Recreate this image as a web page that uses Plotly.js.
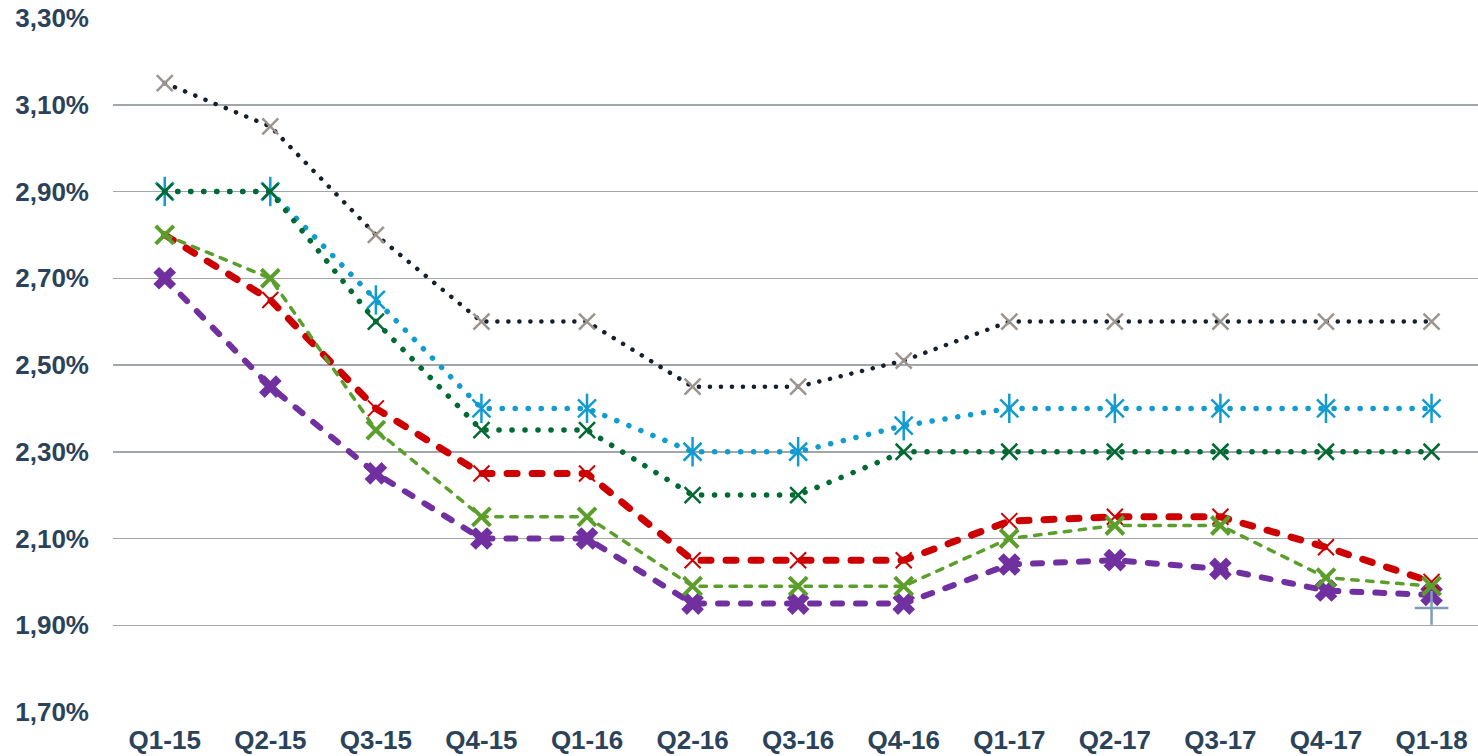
<!DOCTYPE html>
<html>
<head>
<meta charset="utf-8">
<script src="https://cdn.plot.ly/plotly-3.0.1.min.js"></script>
<style>
html,body{margin:0;padding:0;background:#fff;}
#chart{width:1478px;height:756px;}
.js-line{stroke-linecap:round;}
</style>
</head>
<body>
<div id="chart"></div>
<script>
const quarters = ["Q1-15","Q2-15","Q3-15","Q4-15","Q1-16","Q2-16","Q3-16","Q4-16","Q1-17","Q2-17","Q3-17","Q4-17","Q1-18"];
const yTicks = [1.70,1.90,2.10,2.30,2.50,2.70,2.90,3.10,3.30];
const yTickLabels = ["1,70%","1,90%","2,10%","2,30%","2,50%","2,70%","2,90%","3,10%","3,30%"];

const seriesBlackDotted = [3.15,3.05,2.80,2.60,2.60,2.45,2.45,2.51,2.60,2.60,2.60,2.60,2.60];
const seriesBlueDotted  = [2.90,2.90,2.65,2.40,2.40,2.30,2.30,2.36,2.40,2.40,2.40,2.40,2.40];
const seriesGreenDotted = [2.90,2.90,2.60,2.35,2.35,2.20,2.20,2.30,2.30,2.30,2.30,2.30,2.30];
const seriesRedDashed   = [2.80,2.65,2.40,2.25,2.25,2.05,2.05,2.05,2.14,2.15,2.15,2.08,2.00];
const seriesGreenDashed = [2.80,2.70,2.35,2.15,2.15,1.99,1.99,1.99,2.10,2.13,2.13,2.01,1.99];
const seriesPurpleDashed= [2.70,2.45,2.25,2.10,2.10,1.95,1.95,1.95,2.04,2.05,2.03,1.98,1.97];
const seriesPlus        = [null,null,null,null,null,null,null,null,null,null,null,null,1.94];

function lineTrace(y, color, width, dash, symbol, mcolor, msize, mwidth) {
  return {
    x: quarters, y: y, type: 'scatter', mode: 'lines+markers',
    line: {color: color, width: width, dash: dash},
    marker: {symbol: symbol, color: mcolor, size: msize, line: {color: mcolor, width: mwidth}},
    hoverinfo: 'skip', showlegend: false, cliponaxis: false
  };
}
function markerTrace(y, symbol, mcolor, msize, mwidth) {
  return {
    x: quarters, y: y, type: 'scatter', mode: 'markers',
    marker: {symbol: symbol, color: mcolor, size: msize, line: {color: mcolor, width: mwidth}},
    hoverinfo: 'skip', showlegend: false, cliponaxis: false
  };
}

const data = [
  lineTrace(seriesBlackDotted, '#16202d', 4.5, '0.1px,10.9px', 'x-thin-open', '#9c958f', 16, 2.5),
  lineTrace(seriesBlueDotted, '#119cd0', 5.5, '0.1px,12.9px', 'x-thin-open', '#119cd0', 18, 2.5),
  markerTrace(seriesBlueDotted, 'line-ns-open', '#119cd0', 21, 2.5),
  lineTrace(seriesGreenDotted, '#006a33', 5.5, '0.1px,12.9px', 'x-thin-open', '#006a33', 16, 2.5),
  lineTrace(seriesPurpleDashed, '#7030a0', 6, '9px,14px', 'x', '#7030a0', 20, 0),
  lineTrace(seriesRedDashed, '#cc0000', 7, '10px,15px', 'x-thin-open', '#cc0000', 16, 2),
  lineTrace(seriesGreenDashed, '#5b9e2b', 3.5, '6.5px,8.5px', 'x-thin-open', '#5b9e2b', 18, 4),
  markerTrace(seriesPlus, 'cross-thin-open', '#7f9db5', 24, 2.5)
];

const tickFont = {family: '"Liberation Sans", Arial, sans-serif', size: 26, color: '#2b435a', weight: 'bold'};

const layout = {
  width: 1478, height: 756,
  margin: {l: 113, r: 0, t: 18, b: 44, pad: 0},
  paper_bgcolor: '#ffffff', plot_bgcolor: '#ffffff',
  showlegend: false,
  hovermode: false,
  xaxis: {
    type: 'category', range: [-0.49, 12.44],
    showgrid: false, zeroline: false, showline: false, ticks: '',
    tickfont: tickFont, ticklabelstandoff: 10, fixedrange: true
  },
  yaxis: {
    range: [1.70, 3.30], tickmode: 'array', tickvals: yTicks, ticktext: yTickLabels,
    showgrid: true, gridcolor: '#a3a6a9', gridwidth: 1.5,
    zeroline: false, showline: false, ticks: '',
    tickfont: tickFont, ticklabelstandoff: 23, fixedrange: true
  }
};

Plotly.newPlot('chart', data, layout, {displayModeBar: false, staticPlot: true});
</script>
</body>
</html>
